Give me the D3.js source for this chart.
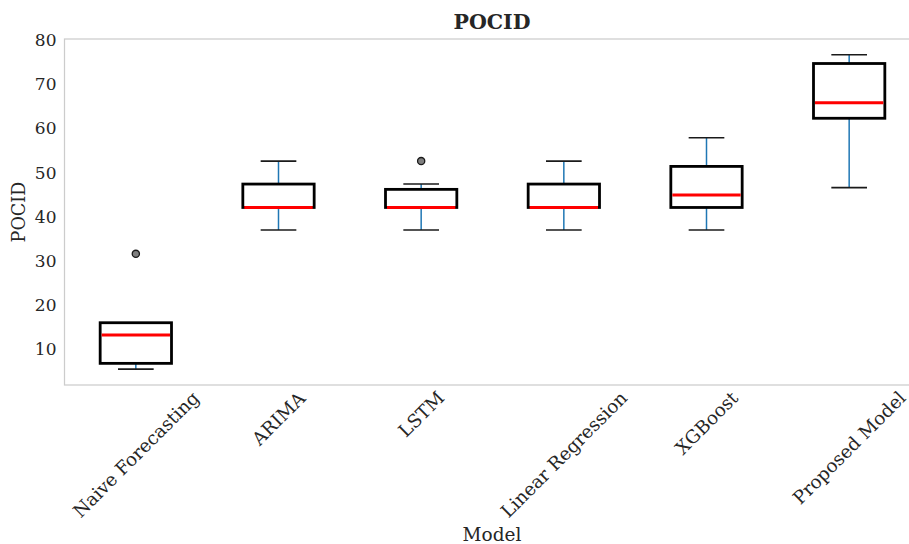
<!DOCTYPE html>
<html>
<head>
<meta charset="utf-8">
<script src="https://cdn.jsdelivr.net/npm/d3@7"></script>
<style>
  body { margin: 0; background: #fff; }
  text { font-family: "DejaVu Serif", serif; fill: #262626; }
</style>
</head>
<body>
<div id="chart"></div>
<script>
// Box statistics per model
const models = ["Naive Forecasting", "ARIMA", "LSTM", "Linear Regression", "XGBoost", "Proposed Model"];
const whiskerLow  = [5.5, 37.0, 37.0, 37.0, 37.0, 46.6];
const q1          = [6.8, 42.1, 42.1, 42.1, 42.1, 62.3];
const median      = [13.2, 42.1, 42.1, 42.1, 44.9, 65.8];
const q3          = [16.0, 47.4, 46.2, 47.4, 51.4, 74.7];
const whiskerHigh = [16.0, 52.6, 47.4, 52.6, 57.9, 76.7];
const outliers = [
    { model: "Naive Forecasting", value: 31.6 },
    { model: "LSTM", value: 52.6 }
];
const yTicks = [10, 20, 30, 40, 50, 60, 70, 80];

const width = 909, height = 544;
const plotLeft = 64.5, plotRight = 920.5, plotTop = 39, plotBottom = 385;

const svg = d3.select("#chart")
    .append("svg")
    .attr("width", width)
    .attr("height", height);

const x = d3.scaleBand()
    .domain(models)
    .range([plotLeft, plotRight]);

const y = d3.scaleLinear()
    .domain([1.9, 80.25])
    .range([plotBottom, plotTop]);

const boxes = models.map((m, i) => ({
    model: m, low: whiskerLow[i], q1: q1[i], med: median[i], q3: q3[i], high: whiskerHigh[i]
}));

const cx = d => x(d.model) + x.bandwidth() / 2;
const boxW = x.bandwidth() * 0.5;
const capW = x.bandwidth() * 0.25;

// axes frame
svg.append("rect")
    .attr("x", plotLeft)
    .attr("y", plotTop)
    .attr("width", plotRight - plotLeft)
    .attr("height", plotBottom - plotTop)
    .attr("fill", "none")
    .attr("stroke", "#cccccc")
    .attr("stroke-width", 1.25);

// whiskers and caps
const g = svg.append("g");
boxes.forEach(d => {
    g.append("line")
        .attr("x1", cx(d)).attr("x2", cx(d))
        .attr("y1", y(d.low)).attr("y2", y(d.q1))
        .attr("stroke", "#1f77b4").attr("stroke-width", 1.5);
    g.append("line")
        .attr("x1", cx(d)).attr("x2", cx(d))
        .attr("y1", y(d.q3)).attr("y2", y(d.high))
        .attr("stroke", "#1f77b4").attr("stroke-width", 1.5);
    [d.low, d.high].forEach(v => {
        g.append("line")
            .attr("x1", cx(d) - capW / 2).attr("x2", cx(d) + capW / 2)
            .attr("y1", y(v)).attr("y2", y(v))
            .attr("stroke", "#1a1a1a").attr("stroke-width", 1.6);
    });
});

// boxes
g.selectAll(".box")
    .data(boxes)
    .enter().append("rect")
    .attr("class", "box")
    .attr("x", d => cx(d) - boxW / 2)
    .attr("y", d => y(d.q3))
    .attr("width", boxW)
    .attr("height", d => y(d.q1) - y(d.q3))
    .attr("fill", "none")
    .attr("stroke", "#000")
    .attr("stroke-width", 2.8);

// medians
g.selectAll(".median")
    .data(boxes)
    .enter().append("line")
    .attr("class", "median")
    .attr("x1", d => cx(d) - boxW / 2 + 1.5)
    .attr("x2", d => cx(d) + boxW / 2 - 1.5)
    .attr("y1", d => y(d.med))
    .attr("y2", d => y(d.med))
    .attr("stroke", "#ff0000")
    .attr("stroke-width", 3);

// outliers
g.selectAll(".flier")
    .data(outliers)
    .enter().append("circle")
    .attr("class", "flier")
    .attr("cx", d => x(d.model) + x.bandwidth() / 2)
    .attr("cy", d => y(d.value))
    .attr("r", 3.6)
    .attr("fill", "#7f7f7f")
    .attr("stroke", "#1a1a1a")
    .attr("stroke-width", 1.3);

// y axis
const yAxis = svg.append("g")
    .attr("transform", "translate(" + plotLeft + ",0)")
    .call(d3.axisLeft(y).tickValues(yTicks).tickSize(0).tickPadding(8));
yAxis.select(".domain").remove();
yAxis.selectAll("text")
    .style("font-family", "DejaVu Serif")
    .style("font-size", "17px")
    .attr("fill", "#262626");

// x tick labels, rotated 45deg, rotated box centred under tick
const xLabels = svg.append("g");
models.forEach(m => {
    const t = xLabels.append("text")
        .text(m)
        .style("font-size", "18.3px")
        .attr("text-anchor", "middle")
        .attr("dominant-baseline", "central");
    const bb = t.node().getBBox();
    const half = (bb.width + bb.height) / (2 * Math.SQRT2);
    const px = x(m) + x.bandwidth() / 2;
    const py = plotBottom + 2 + half;
    t.attr("transform", "translate(" + px + "," + py + ") rotate(-45)");
});

// labels and title
svg.append("text")
    .attr("x", 492)
    .attr("y", 541)
    .attr("text-anchor", "middle")
    .style("font-size", "18.5px")
    .text("Model");

svg.append("text")
    .attr("transform", "translate(25," + ((plotTop + plotBottom) / 2) + ") rotate(-90)")
    .attr("text-anchor", "middle")
    .style("font-size", "17.6px")
    .text("POCID");

svg.append("text")
    .attr("x", 492)
    .attr("y", 29)
    .attr("text-anchor", "middle")
    .style("font-size", "20.5px")
    .style("font-weight", "bold")
    .text("POCID");
</script>
</body>
</html>
